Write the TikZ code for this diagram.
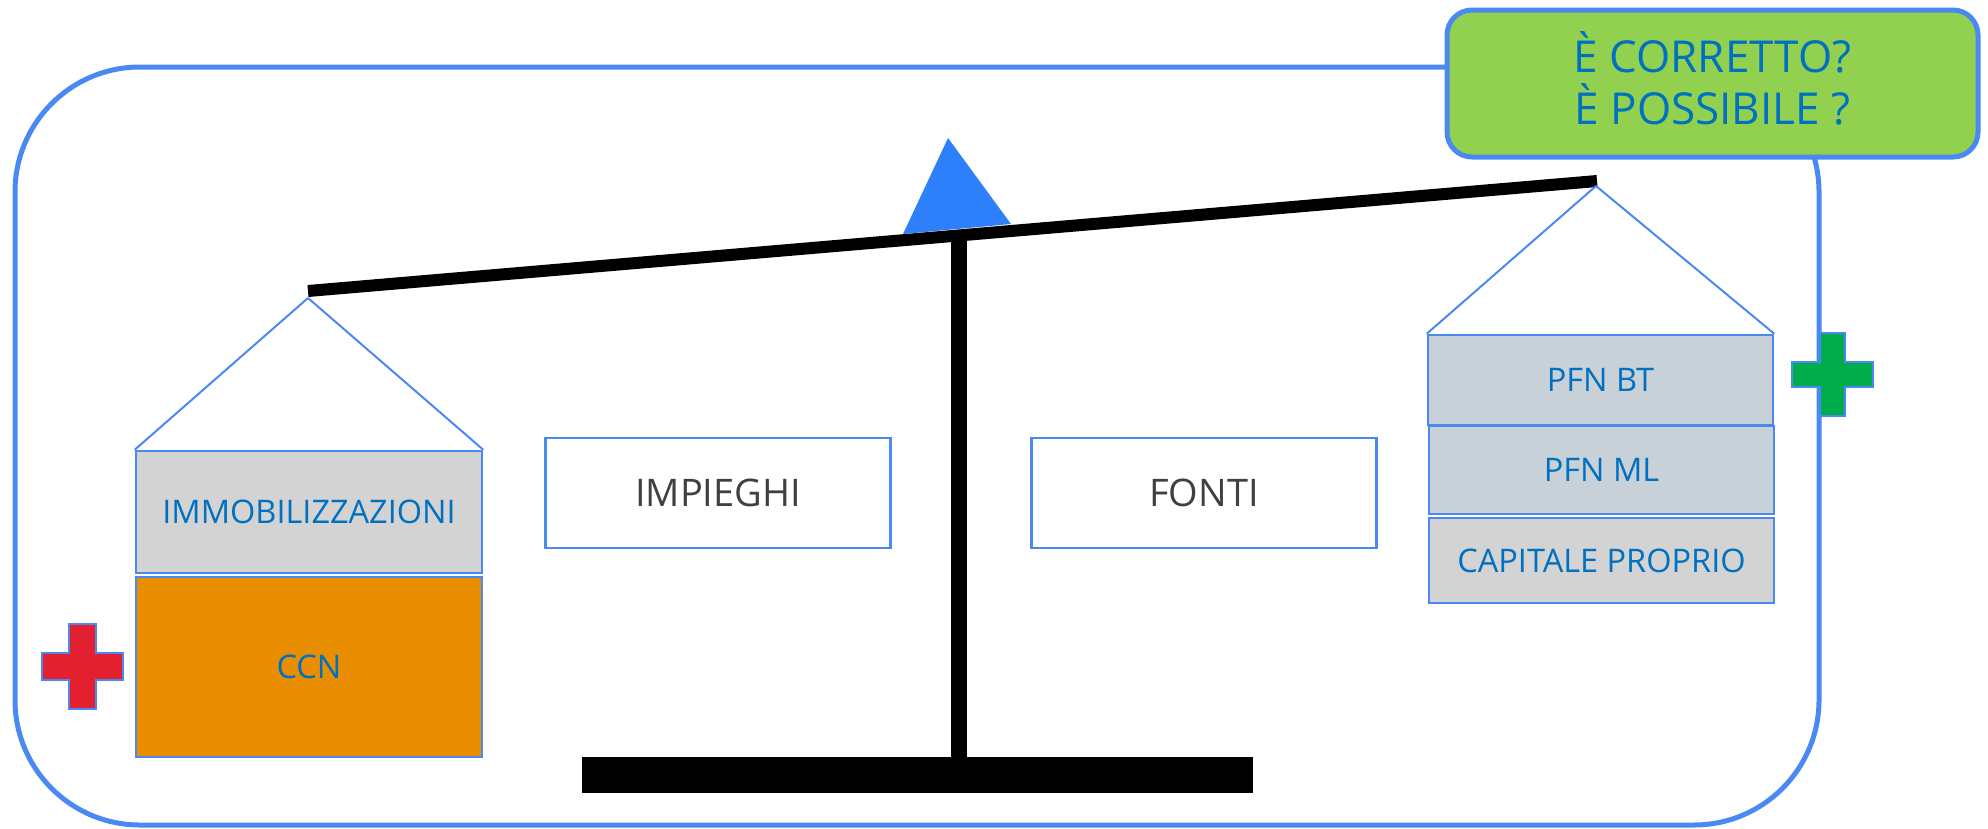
\documentclass[tikz,border=0pt]{standalone}
\usepackage{fontspec}
\setmainfont{Open Sans}
\definecolor{bordblue}{RGB}{74,137,243}
\definecolor{txtblue}{RGB}{0,112,192}
\definecolor{txtgray}{RGB}{64,64,64}
\definecolor{fulcblue}{RGB}{45,127,250}
\definecolor{lgray}{RGB}{211,211,211}
\definecolor{bgray}{RGB}{201,209,216}
\definecolor{orangefill}{RGB}{232,142,0}
\definecolor{redcross}{RGB}{227,32,48}
\definecolor{greencross}{RGB}{0,173,76}
\definecolor{greenbox}{RGB}{146,208,80}
\begin{document}
\begin{tikzpicture}[x=1pt,y=-1pt,
  bal/.style={draw=bordblue,line width=2.5pt,inner sep=0pt,text=txtblue,
    font=\fontsize{32.5}{39}\selectfont,minimum width=346pt},
  mid/.style={draw=bordblue,line width=2.5pt,inner sep=0pt,text=txtgray,fill=white,
    font=\fontsize{38}{46}\selectfont,minimum width=345pt,minimum height=110pt},
  roof/.style={draw=bordblue,line width=2pt},
  crossst/.style={draw=bordblue,line width=2pt}]
\useasboundingbox (0,0) rectangle (1988,828);
% outer frame
\draw[bordblue,line width=5pt,rounded corners=125pt] (15,67) rectangle (1819,825);
% fulcrum
\fill[fulcblue] (948,138) -- (903,234) -- (1011,224) -- cycle;
% post and base
\fill[black] (951,235) rectangle (967,758);
\fill[black] (582,757) rectangle (1253,793);
% beam
\coordinate (bl) at (308,291);
\coordinate (br) at (1597,181);
\draw[line width=12pt] (bl) -- (br);
\coordinate (lapex) at (308,298);
\coordinate (rapex) at (1596,186);
% left side
\node[bal,fill=lgray,minimum height=122pt] (immob) at (309,512) {IMMOBILIZZAZIONI};
\node[bal,fill=orangefill,minimum height=180pt] (ccn) at (309,667) {CCN};
\draw[roof] (lapex) -- (immob.north west);
\draw[roof] (lapex) -- (immob.north east);
% middle
\node[mid] (imp) at (718,493) {IMPIEGHI};
\node[mid] (fonti) at (1204,493) {FONTI};
% right side
\node[bal,fill=bgray,minimum height=90pt,minimum width=345pt] (pfnbt) at (1600.5,380) {PFN BT};
\node[bal,fill=bgray,minimum height=88pt,minimum width=345pt] (pfnml) at (1601.5,470) {PFN ML};
\node[bal,fill=lgray,minimum height=85pt,minimum width=345pt] (cap) at (1601.5,560.5) {CAPITALE PROPRIO};
\draw[roof] (rapex) -- (pfnbt.north west);
\draw[roof] (rapex) -- (pfnbt.north east);
% crosses
\filldraw[crossst,fill=redcross] (69,624) -- (96,624) -- (96,653) -- (123,653) -- (123,680) -- (96,680) -- (96,709) -- (69,709) -- (69,680) -- (42,680) -- (42,653) -- (69,653) -- cycle;
\filldraw[crossst,fill=greencross] (1820,333) -- (1845,333) -- (1845,362) -- (1873,362) -- (1873,387) -- (1845,387) -- (1845,416) -- (1820,416) -- (1820,387) -- (1792,387) -- (1792,362) -- (1820,362) -- cycle;
% callout
\node[draw=bordblue,line width=5pt,fill=greenbox,rounded corners=25pt,
  minimum width=531pt,minimum height=147pt,inner sep=0pt,text=txtblue,align=center,
  text depth=10pt,
  font=\fontsize{44}{52}\selectfont] (q) at (1712.5,83.5) {È CORRETTO?\\È POSSIBILE ?};
\end{tikzpicture}
\end{document}
